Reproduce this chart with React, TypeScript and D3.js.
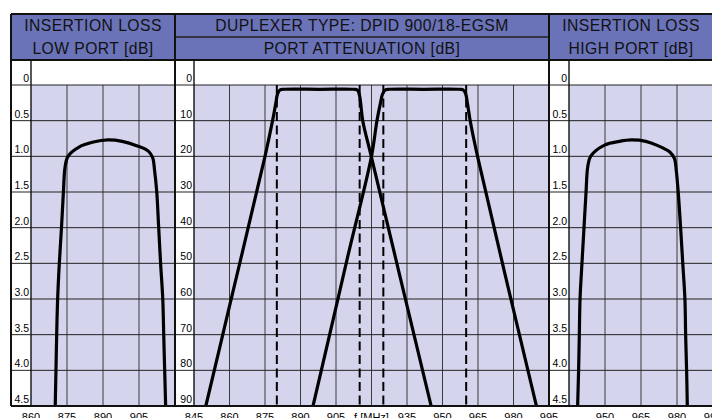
import * as React from "react";
import * as d3 from "d3";

type Pt = [number, number]; // [MHz, dB]

// y axis ticks
const IL_TICKS = [0, 0.5, 1.0, 1.5, 2.0, 2.5, 3.0, 3.5, 4.0, 4.5];
const ATT_TICKS = [0, 10, 20, 30, 40, 50, 60, 70, 80, 90];

// x axis ticks per panel
const LOW_FREQ = [860, 875, 890, 905, 920];
const MID_FREQ = [845, 860, 875, 890, 905, 920, 935, 950, 965, 980, 995];
const HIGH_FREQ = [935, 950, 965, 980, 995];
const MID_FREQ_LABELS = ["845", "860", "875", "890", "905", "f [MHz]", "935", "950", "965", "980", "995"];

// insertion loss, low port
const LOW_IL: Pt[] = [
  [870.0, 4.7], [870.1, 4.5], [870.4, 4.0], [870.7, 3.5], [871.1, 3.0], [871.8, 2.5],
  [872.7, 2.0], [873.5, 1.5], [874.2, 1.15], [875.4, 1.0], [880, 0.87], [886, 0.8],
  [892, 0.77], [898, 0.79], [904, 0.85], [909, 0.93], [910.7, 1.02], [911.5, 1.2],
  [912.4, 1.5], [913.2, 2.0], [914.0, 2.5], [914.9, 3.0], [915.3, 3.5], [915.7, 4.0],
  [916.1, 4.5], [916.2, 4.7],
];

// insertion loss, high port
const HIGH_IL: Pt[] = [
  [938.5, 4.7], [938.6, 4.5], [939.0, 4.0], [939.3, 3.5], [939.6, 3.0], [940.4, 2.5],
  [941.25, 2.0], [942.1, 1.5], [942.8, 1.15], [944, 1.0], [950, 0.84], [956, 0.79],
  [961, 0.77], [967, 0.79], [972, 0.85], [977, 0.94], [978.9, 1.03], [979.7, 1.2],
  [980.5, 1.5], [981.5, 2.0], [982.4, 2.5], [983.3, 3.0], [983.6, 3.5], [984.0, 4.0],
  [984.3, 4.5], [984.4, 4.7],
];

// port attenuation
const LOW_ATT: Pt[] = [
  [849.6, 91], [850.0, 90], [860, 62], [875, 20], [878.2, 10], [879.6, 5], [880.3, 2.5],
  [881.3, 1.4], [883, 1.2], [898, 1.2], [912.5, 1.2], [914.0, 1.4], [914.8, 2.5],
  [915.4, 5], [916.3, 10], [919.9, 20], [945.2, 90], [945.6, 91],
];
const HIGH_ATT: Pt[] = [
  [894.9, 91], [895.3, 90], [910, 48], [920, 20], [922.3, 10], [923.8, 5], [924.7, 2.5],
  [925.8, 1.4], [927.5, 1.2], [942, 1.2], [957.2, 1.2], [958.8, 1.4], [959.8, 2.5],
  [960.5, 5], [961.7, 10], [964.8, 20], [989.7, 90], [990.1, 91],
];
const PASSBAND_EDGES = [880, 915, 925, 960];

const HEADER_TOP = 14;
const HEADER_MID = 37;
const HEADER_BOTTOM = 60;
const ZERO_Y = 85;
const BOTTOM_Y = 406;

const HEADER_FILL = "#6a72b8";
const LAVENDER = "#d4d4ec";
const FONT = "'Liberation Sans', Arial, Helvetica, sans-serif";

type PanelProps = {
  id: string;
  x0: number;
  sep: number;
  x1: number;
  freq: number[];
  freqLabels: (string | null)[];
  yTicks: number[];
  yFmt: (v: number) => string;
  curves: Pt[][];
  dashes?: number[];
};

function Panel({ id, x0, sep, x1, freq, freqLabels, yTicks, yFmt, curves, dashes = [] }: PanelProps) {
  const x = d3.scaleLinear().domain([freq[0], freq[freq.length - 1]]).range([sep, x1]);
  const y = d3.scaleLinear().domain([yTicks[0], yTicks[yTicks.length - 1]]).range([ZERO_Y, BOTTOM_Y]);
  const line = d3
    .line<Pt>()
    .x((d) => x(d[0]))
    .y((d) => y(d[1]))
    .curve(d3.curveCatmullRom.alpha(0.5));

  return (
    <g>
      <defs>
        <clipPath id={id}>
          <rect x={sep} y={ZERO_Y} width={x1 - sep} height={BOTTOM_Y - ZERO_Y} />
        </clipPath>
      </defs>
      <rect x={x0} y={HEADER_BOTTOM} width={x1 - x0} height={BOTTOM_Y - HEADER_BOTTOM} fill="#fff" />
      <rect x={sep} y={ZERO_Y} width={x1 - sep} height={BOTTOM_Y - ZERO_Y} fill={LAVENDER} />

      {/* vertical grid */}
      {freq.slice(1, -1).map((f) => (
        <line key={"v" + f} x1={x(f)} x2={x(f)} y1={ZERO_Y} y2={BOTTOM_Y} stroke="#3a3a3a" strokeWidth={1} />
      ))}
      {/* horizontal grid, runs through label column too */}
      {yTicks.map((t) => (
        <line key={"h" + t} x1={x0} x2={x1} y1={y(t)} y2={y(t)} stroke="#222" strokeWidth={1} />
      ))}

      {/* passband edges */}
      {dashes.map((f) => (
        <line
          key={"d" + f}
          x1={x(f)}
          x2={x(f)}
          y1={ZERO_Y}
          y2={BOTTOM_Y}
          stroke="#000"
          strokeWidth={2}
          strokeDasharray="9,4.5"
        />
      ))}

      <g clipPath={`url(#${id})`}>
        {curves.map((c, i) => (
          <path key={i} d={line(c) ?? ""} fill="none" stroke="#000" strokeWidth={3.2} strokeLinejoin="round" />
        ))}
      </g>

      {/* label column separator */}
      <line x1={sep} x2={sep} y1={HEADER_BOTTOM} y2={BOTTOM_Y} stroke="#111" strokeWidth={1.4} />

      {yTicks.map((t) => (
        <text key={"yl" + t} x={sep - 2} y={y(t) - 3} textAnchor="end" fontSize={10.5} fontFamily={FONT} fill="#000">
          {yFmt(t)}
        </text>
      ))}
      {freq.map((f, i) =>
        freqLabels[i] ? (
          <text key={"xl" + f} x={x(f)} y={421} textAnchor="middle" fontSize={11} fontFamily={FONT} fill="#000">
            {freqLabels[i]}
          </text>
        ) : null
      )}
    </g>
  );
}

export default function App() {
  const L = { x0: 11, sep: 31, x1: 175 };
  const M = { x0: 175, sep: 194, x1: 549 };
  const R = { x0: 549, sep: 569, x1: 713 };
  const headerText = { fontFamily: FONT, fontSize: 15.7, fill: "#111", textAnchor: "middle" as const, letterSpacing: 0.45 };

  return (
    <svg width={712} height={418} style={{ position: "absolute", left: 0, top: 0, background: "#fff" }}>
      <Panel
        id="clipL"
        {...L}
        freq={LOW_FREQ}
        freqLabels={["860", "875", "890", "905", null]}
        yTicks={IL_TICKS}
        yFmt={(v) => (v === 0 ? "0" : v.toFixed(1))}
        curves={[LOW_IL]}
      />
      <Panel
        id="clipM"
        {...M}
        freq={MID_FREQ}
        freqLabels={MID_FREQ_LABELS}
        yTicks={ATT_TICKS}
        yFmt={(v) => String(v)}
        curves={[LOW_ATT, HIGH_ATT]}
        dashes={PASSBAND_EDGES}
      />
      <Panel
        id="clipR"
        {...R}
        freq={HIGH_FREQ}
        freqLabels={[null, "950", "965", "980", "995"]}
        yTicks={IL_TICKS}
        yFmt={(v) => (v === 0 ? "0" : v.toFixed(1))}
        curves={[HIGH_IL]}
      />

      {/* header */}
      <rect x={L.x0} y={HEADER_TOP} width={R.x1 - L.x0} height={HEADER_BOTTOM - HEADER_TOP} fill={HEADER_FILL} />
      <line x1={M.x0} x2={M.x1} y1={HEADER_MID} y2={HEADER_MID} stroke="#222" strokeWidth={1.5} />
      <text x={(L.x0 + L.x1) / 2} y={31} {...headerText}>INSERTION LOSS</text>
      <text x={(L.x0 + L.x1) / 2} y={54} {...headerText}>LOW PORT [dB]</text>
      <text x={(M.x0 + M.x1) / 2} y={31} {...headerText}>DUPLEXER TYPE: DPID 900/18-EGSM</text>
      <text x={(M.x0 + M.x1) / 2} y={54} {...headerText}>PORT ATTENUATION [dB]</text>
      <text x={(R.x0 + R.x1) / 2} y={31} {...headerText}>INSERTION LOSS</text>
      <text x={(R.x0 + R.x1) / 2} y={54} {...headerText}>HIGH PORT [dB]</text>

      {/* frame */}
      <line x1={L.x0} x2={R.x1} y1={HEADER_TOP} y2={HEADER_TOP} stroke="#111" strokeWidth={2} />
      <line x1={L.x0} x2={R.x1} y1={HEADER_BOTTOM} y2={HEADER_BOTTOM} stroke="#111" strokeWidth={2} />
      <line x1={L.x0} x2={R.x1} y1={BOTTOM_Y} y2={BOTTOM_Y} stroke="#111" strokeWidth={2} />
      {[L.x0, M.x0, R.x0].map((xx) => (
        <line key={xx} x1={xx} x2={xx} y1={HEADER_TOP} y2={BOTTOM_Y} stroke="#111" strokeWidth={2} />
      ))}
    </svg>
  );
}
